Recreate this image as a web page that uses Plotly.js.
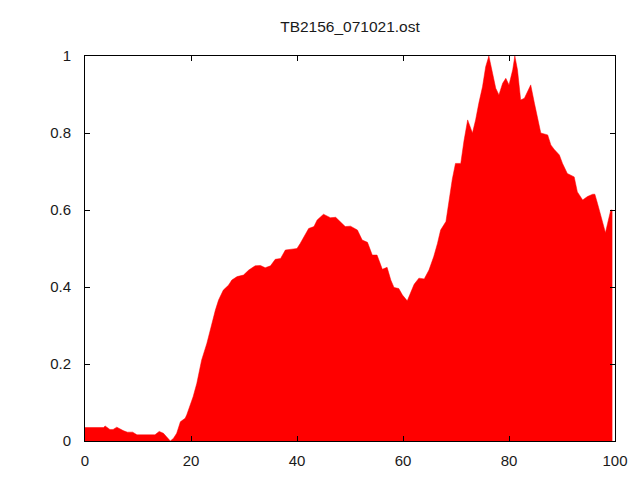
<!DOCTYPE html>
<html>
<head>
<meta charset="utf-8">
<script src="https://cdn.plot.ly/plotly-3.0.1.min.js"></script>
<style>html,body{margin:0;padding:0;background:#fff;}#chart{width:640px;height:480px;}</style>
</head>
<body>
<div id="chart"></div>
<script>
var chartTitle = "TB2156_071021.ost";
var xValues = [0, 3.5, 3.8, 4.7, 5.3, 6, 7.2, 8, 9, 9.8, 13.2, 14, 14.8, 16.1, 16.7, 17.3, 18, 18.9, 19.2, 19.8,
  20.4, 21.1, 22.0, 23.0, 23.9, 24.6, 25.2, 26.1, 27.1, 27.7, 28.7, 29.9, 30.9, 32.1, 33.1, 34.0, 35.0, 35.9, 36.9, 37.8,
  39.4, 40.0, 40.6, 41.6, 42.2, 43.2, 43.8, 45.0, 46.3, 47.3, 48.2, 49.1, 50.1, 51.4, 52.3, 53.3, 54.2, 55.1, 56.1, 57.0,
  57.7, 58.3, 59.2, 59.9, 60.8, 61.4, 62.1, 63.0, 64.0, 64.9, 65.8, 66.5, 67.1, 68.1, 68.7, 69.3, 69.9, 70.9, 71.5, 72.2,
  73.1, 73.7, 74.3, 75.0, 75.6, 76.2, 76.9, 77.5, 78.1, 78.8, 79.4, 80.0, 80.7, 81.1, 81.6, 82.2, 82.9, 83.5, 84.1, 84.8,
  85.4, 86.0, 87.3, 87.9, 88.5, 89.5, 90.1, 91.0, 92.3, 92.9, 93.9, 94.8, 95.8, 96.2, 96.7, 97.4, 98.2, 98.6, 99.2, 99.5];
var yValues = [0.035, 0.035, 0.039, 0.030, 0.030, 0.036, 0.027, 0.023, 0.023, 0.016, 0.016, 0.025, 0.020, 0.0, 0.007, 0.020, 0.050, 0.059, 0.068, 0.089,
  0.115, 0.150, 0.210, 0.254, 0.306, 0.340, 0.366, 0.392, 0.405, 0.418, 0.427, 0.431, 0.444, 0.455, 0.456, 0.450, 0.455, 0.472, 0.474, 0.496,
  0.499, 0.500, 0.513, 0.540, 0.552, 0.557, 0.574, 0.589, 0.580, 0.581, 0.570, 0.557, 0.558, 0.548, 0.522, 0.516, 0.483, 0.483, 0.446, 0.451,
  0.418, 0.399, 0.396, 0.379, 0.364, 0.384, 0.407, 0.423, 0.421, 0.444, 0.479, 0.513, 0.548, 0.570, 0.630, 0.680, 0.721, 0.721, 0.779, 0.834,
  0.800, 0.834, 0.877, 0.920, 0.972, 1.000, 0.955, 0.916, 0.899, 0.929, 0.942, 0.925, 0.964, 1.000, 0.964, 0.886, 0.890, 0.907, 0.925, 0.877,
  0.834, 0.800, 0.795, 0.769, 0.758, 0.743, 0.721, 0.695, 0.686, 0.647, 0.626, 0.635, 0.641, 0.641, 0.617, 0.582, 0.541, 0.565, 0.600, 0.600];
var xTicks = [0, 20, 40, 60, 80, 100];
var yTicks = [0, 0.2, 0.4, 0.6, 0.8, 1];

var fontFam = 'Liberation Sans, Arial, sans-serif';
var trace = {
  x: xValues, y: yValues, type: 'scatter', mode: 'lines',
  fill: 'tozeroy', fillcolor: '#ff0000',
  line: {color: '#ff0000', width: 0.5},
  hoverinfo: 'skip'
};
var axisCommon = {
  showgrid: false, zeroline: false, showline: true, linecolor: '#000', linewidth: 1,
  mirror: 'ticks', ticks: 'inside', ticklen: 5, tickcolor: '#000', tickwidth: 1,
  tickfont: {family: fontFam, size: 15, color: '#1a1a1a'}
};
var layout = {
  width: 640, height: 480,
  margin: {l: 85, r: 25, t: 56, b: 39},
  paper_bgcolor: '#fff', plot_bgcolor: '#fff',
  showlegend: false,
  title: {text: chartTitle, x: 0.5, xref: 'paper', xanchor: 'center', y: 1 - 27/480, yref: 'container', yanchor: 'middle',
    font: {family: fontFam, size: 15.5, color: '#1a1a1a'}},
  xaxis: Object.assign({}, axisCommon, {range: [0, 100], tickvals: xTicks, ticktext: xTicks.map(String), ticklabelstandoff: 6}),
  yaxis: Object.assign({}, axisCommon, {range: [0, 1], tickvals: yTicks, ticktext: yTicks.map(String), ticklabelstandoff: 10})
};
Plotly.newPlot('chart', [trace], layout, {staticPlot: true, displayModeBar: false});
</script>
</body>
</html>
